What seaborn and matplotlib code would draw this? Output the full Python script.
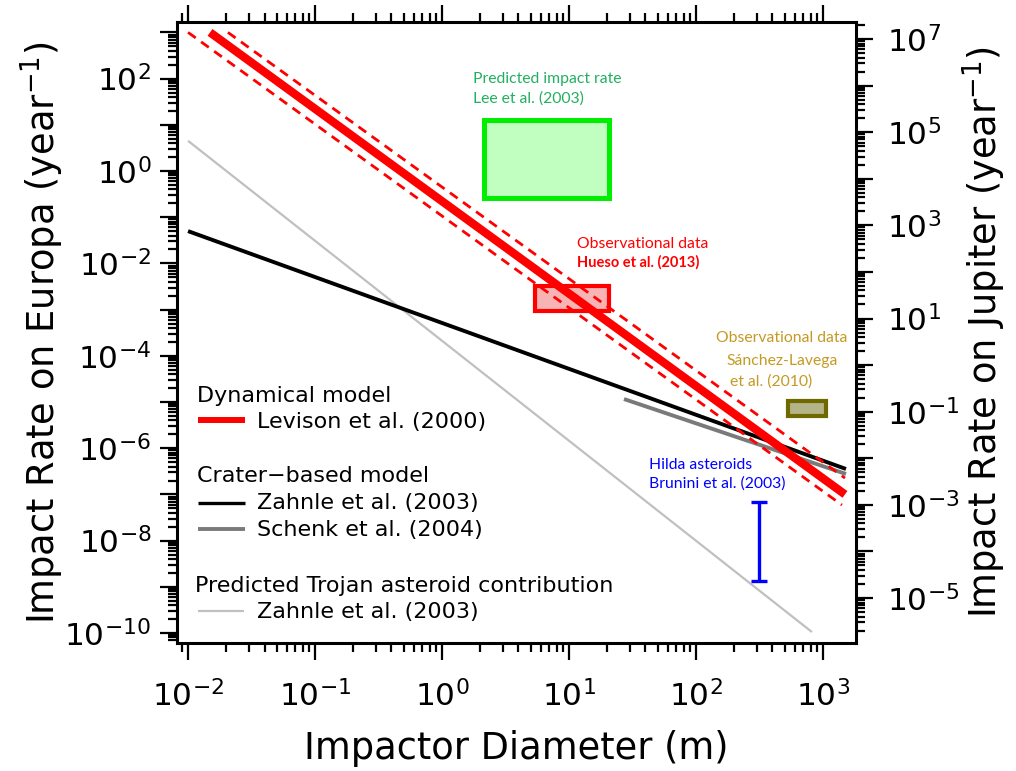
import numpy as np
import pandas as pd
import matplotlib
matplotlib.use("Agg")
import matplotlib.pyplot as plt
import seaborn as sns
from matplotlib import ticker, font_manager
from matplotlib.patches import Rectangle

# ---------------- data ----------------
levison_D = [0.0149, 1490.0]
levison_R = [1.0e3, 1.0e-7]
levison_lo_D = [0.0100, 1410.0]
levison_lo_R = [1.0e3, 5.9e-8]
levison_hi_D = [0.0206, 1490.0]
levison_hi_R = [1.0e3, 2.26e-7]
zahnle_D = [0.0100, 1517.0]
zahnle_R = [5.0e-2, 3.55e-7]
schenk_D = [27.1, 1517.0]
schenk_R = [1.16e-5, 2.77e-7]
trojan_D = [0.0100, 819.0]
trojan_R = [4.5, 1.05e-10]

lee_D = [2.16, 20.5]
lee_R = [0.255, 13.0]
hueso_D = [5.4, 20.6]
hueso_R = [9.3e-4, 3.24e-3]
sanchez_D = [530.0, 1057.0]
sanchez_R = [5.0e-6, 1.05e-5]
hilda_D = 313.0
hilda_R = [1.34e-9, 6.8e-8]

europa_left_labels = list(range(-10, 3, 2))
jupiter_labels = list(range(-5, 8, 2))

# ---------------- style ----------------
sns.set_style("white")
plt.rcParams["font.family"] = ["DejaVu Sans"]
plt.rcParams["mathtext.fontset"] = "dejavusans"
for k in ["text.color", "axes.labelcolor", "xtick.color", "ytick.color", "axes.edgecolor"]:
    plt.rcParams[k] = "black"
note_font = ["Lato", "DejaVu Sans"]

fig = plt.figure(figsize=(10.16, 7.71), dpi=100)
W, H = 1016, 771
ax = fig.add_axes([177 / W, 1 - 643 / H, 679 / W, 621 / H])
ax.set_xscale("log")
ax.set_yscale("log")
ax.set_xlim(10 ** -2.087, 10 ** 3.26)
ax.set_ylim(10 ** -10.216, 10 ** 3.225)

def line(D, R, **kw):
    df = pd.DataFrame({"D": D, "R": R})
    sns.lineplot(data=df, x="D", y="R", ax=ax, legend=False, sort=False,
                 solid_capstyle="butt", dash_capstyle="butt", **kw)

# rectangles
ax.add_patch(Rectangle((lee_D[0], lee_R[0]), lee_D[1] - lee_D[0], lee_R[1] - lee_R[0],
                       facecolor="#c0ffc0", edgecolor="#00ee00", lw=3.6, zorder=3))
ax.add_patch(Rectangle((hueso_D[0], hueso_R[0]), hueso_D[1] - hueso_D[0], hueso_R[1] - hueso_R[0],
                       facecolor="#f8b4b4", edgecolor="none", zorder=1))
ax.add_patch(Rectangle((hueso_D[0], hueso_R[0]), hueso_D[1] - hueso_D[0], hueso_R[1] - hueso_R[0],
                       facecolor="none", edgecolor="#ff0000", lw=3.0, zorder=5))
ax.add_patch(Rectangle((sanchez_D[0], sanchez_R[0]), sanchez_D[1] - sanchez_D[0], sanchez_R[1] - sanchez_R[0],
                       facecolor="#b4b488", edgecolor="#6e6a00", lw=3.0, zorder=3))

line(trojan_D, trojan_R, color="#c0c0c0", lw=1.6, zorder=2)
line(zahnle_D, zahnle_R, color="black", lw=2.8, zorder=2)
line(schenk_D, schenk_R, color="#7a7a7a", lw=2.8, zorder=2)
line(levison_lo_D, levison_lo_R, color="#ff0000", lw=2.0, linestyle=(0, (3.4, 2.4)), zorder=4)
line(levison_hi_D, levison_hi_R, color="#ff0000", lw=2.0, linestyle=(0, (3.4, 2.4)), zorder=4)
line(levison_D, levison_R, color="#ff0000", lw=6.0, zorder=4)

# Hilda error bar
hc = np.sqrt(hilda_R[0] * hilda_R[1])
ax.errorbar([hilda_D], [hc], yerr=[[hc - hilda_R[0]], [hilda_R[1] - hc]], fmt="none",
            ecolor="#0000ff", elinewidth=2.4, capsize=6, capthick=2.4, zorder=4)

# annotations
nfs = 11.3
ax.text(1.75, 80, "Predicted impact rate", color="#22b060", fontsize=nfs, family=note_font, ha="left", va="baseline")
ax.text(1.75, 29.6, "Lee et al. (2003)", color="#22b060", fontsize=nfs, family=note_font, ha="left", va="baseline")
ax.text(11.6, 0.0216, "Observational data", color="#ff0000", fontsize=nfs, family=note_font, ha="left", va="baseline")
ax.text(11.6, 0.00836, "Hueso et al. (2013)", color="#ff0000", fontsize=10.5, family=note_font, ha="left", va="baseline", fontweight="bold")
ax.text(475, 2.0e-4, "Observational data", color="#c49a22", fontsize=nfs, family=note_font, ha="center", va="baseline")
ax.text(475, 6.3e-5, "Sánchez-Lavega", color="#c49a22", fontsize=nfs, family=note_font, ha="center", va="baseline")
ax.text(389, 2.3e-5, "et al. (2010)", color="#c49a22", fontsize=nfs, family=note_font, ha="center", va="baseline")
ax.text(42.7, 3.55e-7, "Hilda asteroids", color="#0000ff", fontsize=nfs, family=note_font, ha="left", va="baseline")
ax.text(42.7, 1.38e-7, "Brunini et al. (2003)", color="#0000ff", fontsize=nfs, family=note_font, ha="left", va="baseline")

# legend (manual)
T = ax.transAxes
lfs = 16
ax.text(0.0295, 0.388, "Dynamical model", transform=T, fontsize=lfs, va="baseline")
ax.plot([0.031, 0.100], [0.359, 0.359], transform=T, color="#ff0000", lw=4.3, solid_capstyle="butt")
ax.text(0.118, 0.346, "Levison et al. (2000)", transform=T, fontsize=lfs, va="baseline")
ax.text(0.0295, 0.259, "Crater\u2212based model", transform=T, fontsize=lfs, va="baseline")
ax.plot([0.031, 0.100], [0.2254, 0.2254], transform=T, color="black", lw=2.4, solid_capstyle="butt")
ax.text(0.118, 0.2158, "Zahnle et al. (2003)", transform=T, fontsize=lfs, va="baseline")
ax.plot([0.031, 0.100], [0.1836, 0.1836], transform=T, color="#7a7a7a", lw=2.8, solid_capstyle="butt")
ax.text(0.118, 0.1723, "Schenk et al. (2004)", transform=T, fontsize=lfs, va="baseline")
ax.text(0.0265, 0.0821, "Predicted Trojan asteroid contribution", transform=T, fontsize=lfs, va="baseline")
ax.plot([0.031, 0.099], [0.0515, 0.0515], transform=T, color="#c0c0c0", lw=1.6, solid_capstyle="butt")
ax.text(0.118, 0.0403, "Zahnle et al. (2003)", transform=T, fontsize=lfs, va="baseline")

# axes styling
for s in ax.spines.values():
    s.set_linewidth(2.2)
    s.set_color("black")

def expfmt(keep):
    def f(v, pos):
        e = int(round(np.log10(v)))
        return r"$10^{%d}$" % e if e in keep else ""
    return ticker.FuncFormatter(f)

ax.xaxis.set_major_locator(ticker.LogLocator(base=10, numticks=100))
ax.xaxis.set_minor_locator(ticker.LogLocator(base=10, subs=np.arange(2, 10), numticks=100))
ax.xaxis.set_minor_formatter(ticker.NullFormatter())
ax.xaxis.set_major_formatter(expfmt(range(-2, 4)))
ax.yaxis.set_major_locator(ticker.LogLocator(base=10, numticks=100))
ax.yaxis.set_minor_locator(ticker.LogLocator(base=10, subs=np.arange(2, 10), numticks=100))
ax.yaxis.set_minor_formatter(ticker.NullFormatter())
ax.yaxis.set_major_formatter(expfmt(europa_left_labels))
ax.tick_params(which="both", direction="out", width=1.6, color="black")
ax.tick_params(which="major", length=12.5)
ax.tick_params(which="minor", length=6.5)
ax.tick_params(axis="x", which="both", top=True, bottom=True, labeltop=False)
ax.tick_params(axis="y", which="both", left=True, right=False)
ax.tick_params(axis="x", which="major", labelsize=22.5, pad=14)
ax.tick_params(axis="y", which="major", labelsize=22.5, pad=6)

ax.set_xlabel("Impactor Diameter (m)", fontsize=26.5)
ax.xaxis.set_label_coords(0.5, -0.14)
ax.set_ylabel(r"Impact Rate on Europa (year$^{-1}$)", fontsize=26.5)
ax.yaxis.set_label_coords(-0.164, 0.5)

ax2 = ax.twinx()
ax2.set_yscale("log")
ax2.set_ylim(10 ** -5.966, 10 ** 7.365)
for s in ax2.spines.values():
    s.set_visible(False)
ax2.yaxis.set_major_locator(ticker.LogLocator(base=10, numticks=100))
ax2.yaxis.set_minor_locator(ticker.LogLocator(base=10, subs=np.arange(2, 10), numticks=100))
ax2.yaxis.set_minor_formatter(ticker.NullFormatter())
ax2.yaxis.set_major_formatter(expfmt(jupiter_labels))
ax2.tick_params(which="both", direction="out", width=1.6, color="black")
ax2.tick_params(which="major", length=12.5, labelsize=22.5, pad=10)
ax2.tick_params(which="minor", length=6.5)
ax2.set_ylabel(r"Impact Rate on Jupiter (year$^{-1}$)", fontsize=26.5)
ax2.yaxis.set_label_coords(1.153, 0.5)
ax2.grid(False)
ax.grid(False)

fig.savefig("out.png", dpi=100)
